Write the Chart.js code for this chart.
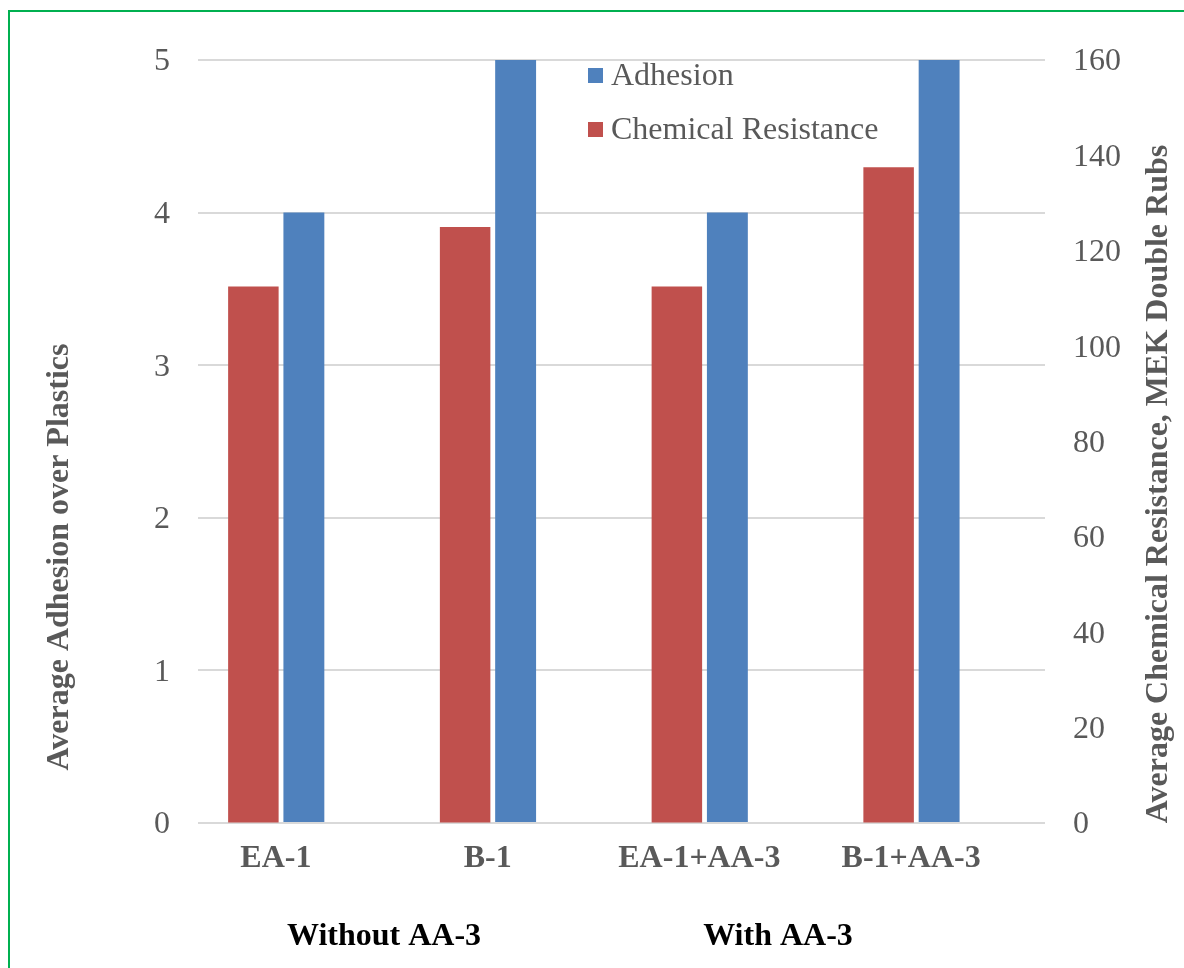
<!DOCTYPE html>
<html>
<head>
<meta charset="utf-8">
<script src="https://cdn.jsdelivr.net/npm/chart.js@4/dist/chart.umd.min.js"></script>
<style>
  html, body { margin: 0; padding: 0; background: #ffffff; }
  #wrap { position: relative; width: 1184px; height: 968px; overflow: hidden; }
  #frame {
    position: absolute; left: 8px; top: 10px; width: 1200px; height: 1000px;
    border-left: 2px solid #00B050; border-top: 2px solid #00B050;
    pointer-events: none;
  }
  canvas { position: absolute; left: 0; top: 0; }
</style>
</head>
<body>
<div id="wrap">
  <canvas id="chart" width="1184" height="968"></canvas>
  <div id="frame"></div>
</div>
<script>
// Formulations on the category axis
const categories = ['EA-1', 'B-1', 'EA-1+AA-3', 'B-1+AA-3'];
// Average adhesion rating over plastics (left axis, 0-5)
const adhesion = [4, 5, 4, 5];
// Average chemical resistance, MEK double rubs (right axis, 0-160)
const chemicalResistance = [112.5, 125, 112.5, 137.5];
// Empty slot that keeps each pair to the left of its category
const spacer = [null, null, null, null];
// Axis ranges and steps
const leftTicks = { min: 0, max: 5, step: 1 };
const rightTicks = { min: 0, max: 160, step: 20 };
// Group captions under the category labels
const groupLabels = ['Without AA-3', 'With AA-3'];
const legendOrder = ['Adhesion', 'Chemical Resistance'];
const leftTitle = 'Average Adhesion over Plastics';
const rightTitle = 'Average Chemical Resistance, MEK Double Rubs';

const SERIF = "'Liberation Serif', 'Times New Roman', Times, serif";
const GREY = '#595959';
const RED = '#C0504D';
const BLUE = '#4F81BD';

// Draws the in-plot legend, the rotated axis titles and the group captions
const chartText = {
  id: 'chartText',
  afterDraw(chart, args, opts) {
    const ctx = chart.ctx;
    ctx.save();

    // legend
    ctx.font = `${opts.fontSize}px ${SERIF}`;
    ctx.textBaseline = 'alphabetic';
    ctx.textAlign = 'left';
    legendOrder.forEach((name, i) => {
      const ds = chart.data.datasets.find(d => d.label === name);
      const y = opts.legend.y + i * opts.legend.rowGap;
      ctx.fillStyle = ds.backgroundColor;
      ctx.fillRect(opts.legend.x, y - opts.legend.box - 2, opts.legend.box, opts.legend.box);
      ctx.fillStyle = GREY;
      ctx.fillText(name, opts.legend.x + opts.legend.box + 8, y);
    });

    // rotated axis titles
    ctx.font = `bold ${opts.fontSize}px ${SERIF}`;
    ctx.fillStyle = GREY;
    ctx.textAlign = 'center';
    [[leftTitle, opts.leftTitle], [rightTitle, opts.rightTitle]].forEach(([text, p]) => {
      ctx.save();
      ctx.translate(p.x, p.y);
      ctx.rotate(-Math.PI / 2);
      ctx.fillText(text, 0, 0);
      ctx.restore();
    });

    // group captions
    ctx.fillStyle = '#000000';
    groupLabels.forEach((text, i) => {
      ctx.fillText(text, opts.groups.x[i], opts.groups.y);
    });

    ctx.restore();
  }
};

const tickFont = { family: SERIF, size: 32 };

new Chart(document.getElementById('chart'), {
  type: 'bar',
  data: {
    labels: categories,
    datasets: [
      {
        label: 'Chemical Resistance',
        data: chemicalResistance,
        yAxisID: 'yRight',
        backgroundColor: RED,
        categoryPercentage: 0.7155,
        barPercentage: 1.0
      },
      {
        label: 'Adhesion',
        data: adhesion,
        yAxisID: 'yLeft',
        backgroundColor: BLUE,
        categoryPercentage: 0.7155,
        barPercentage: 0.81
      },
      {
        label: '',
        data: spacer,
        yAxisID: 'yLeft',
        backgroundColor: 'rgba(0,0,0,0)',
        categoryPercentage: 0.7155,
        barPercentage: 0.81
      }
    ]
  },
  options: {
    responsive: false,
    animation: false,
    events: [],
    layout: { padding: { left: 60, right: 40, top: 60, bottom: 85 } },
    plugins: {
      legend: { display: false },
      tooltip: { enabled: false },
      chartText: {
        fontSize: 32,
        legend: { x: 588, y: 85, rowGap: 54, box: 15 },
        leftTitle: { x: 68, y: 557 },
        rightTitle: { x: 1167, y: 484 },
        groups: { x: [384, 778], y: 945 }
      }
    },
    scales: {
      x: {
        grid: { display: false, drawTicks: false },
        border: { display: false },
        ticks: {
          font: { family: SERIF, size: 32, weight: 'bold' },
          color: GREY,
          labelOffset: -28,
          padding: 17,
          maxRotation: 0,
          autoSkip: false
        },
        afterFit(scale) { scale.height = 60; }
      },
      yLeft: {
        position: 'left',
        min: leftTicks.min,
        max: leftTicks.max,
        ticks: { stepSize: leftTicks.step, font: tickFont, color: GREY, padding: 28, labelOffset: 2 },
        grid: { color: '#D9D9D9', lineWidth: 2, drawTicks: false },
        border: { display: false },
        afterFit(scale) { scale.width = 138; }
      },
      yRight: {
        position: 'right',
        min: rightTicks.min,
        max: rightTicks.max,
        ticks: { stepSize: rightTicks.step, font: tickFont, color: GREY, padding: 28, labelOffset: 2 },
        grid: { drawOnChartArea: false, drawTicks: false },
        border: { display: false },
        afterFit(scale) { scale.width = 99; }
      }
    }
  },
  plugins: [chartText]
});
</script>
</body>
</html>
